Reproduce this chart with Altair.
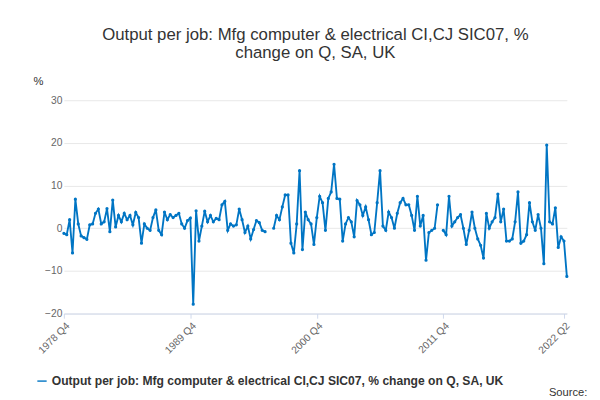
import altair as alt
import pandas as pd

vals = [
 -1.2,-1.5,2.0,-5.8,6.8, 1.0,-1.8,-2.2,-2.6,0.8, 1.0,3.5,4.5,1.0,1.5, 4.6,-0.8,6.6,0.3,3.0,
 1.5,3.5,2.0,3.0,0.8, 3.7,2.5,-3.5,1.0,0.0, -0.5,2.5,4.3,-0.5,-1.5, 3.8,2.0,3.2,2.5,3.0,
 3.5,1.0,0.0,1.8,2.4, -17.8,
 4.1,-3.0,0.5,4.0,1.5, 3.0,1.5,2.3,2.0,5.5, 6.3,-0.5,1.0,0.5,0.8, 4.5,2.0,-1.0,0.5,-2.5,
 -0.3,1.8,1.3,-0.5,-0.8, None,None,0.0,3.0,2.0, 5.0,7.8,7.8,-3.5,-5.8, 1.0,13.5,-5.0,3.8,2.0,
 1.0,-3.8,2.5,7.5,
 6.0,-0.5,7.0,8.5,15.0, 7.0,6.8,-3.0,1.0,2.5, 1.5,-2.0,6.5,5.5,3.0, 5.0,2.0,-1.5,-1.0,6.0,
 13.5,0.5,-0.5,3.8,2.5, 0.0,3.5,6.0,7.0,5.5, 5.5,3.0,-0.5,7.5,0.5, 3.0,-7.5,-1.0,-0.5,0.0,
 5.5,None,-0.5,-1.5,
 7.5,0.5,1.5,2.5,3.2, 0.0,-3.8,-0.5,3.8,0.0, -2.5,-4.0,-7.0,3.5,0.0, 1.5,2.5,8.0,1.5,4.5,
 -3.0,-3.0,-2.5,1.5,8.5, -3.5,-3.0,-1.5,6.0,1.5, -0.5,3.2,0.0,-8.3,19.5, 1.5,1.0,4.8,-4.5,-2.0,
 -3.0,-11.3]

quarters = []
y, q = 1978, 4
for _ in vals:
    quarters.append(f"{y} Q{q}")
    q += 1
    if q > 4:
        q = 1; y += 1

tick_labels = ["1978 Q4", "1989 Q4", "2000 Q4", "2011 Q4", "2022 Q2"]
series = "Output per job: Mfg computer & electrical CI,CJ SIC07, % change on Q, SA, UK"
df = pd.DataFrame({"quarter": quarters, "value": vals, "series": series})
F = "Liberation Sans"

line = alt.Chart(df).mark_line(
    color="#0075c4", strokeWidth=2,
    point=alt.OverlayMarkDef(color="#0075c4", size=12, filled=True)
).encode(
    x=alt.X("quarter:O", sort=None, title=None,
            scale=alt.Scale(type="point", padding=0),
            axis=alt.Axis(values=tick_labels, labelAngle=-45, grid=False,
                          labelColor="#666", labelFontSize=11, domainColor="#ccd6eb",
                          tickColor="#ccd6eb", labelFont=F)),
    y=alt.Y("value:Q", title="%", scale=alt.Scale(domain=[-20, 30]),
            axis=alt.Axis(values=[-20, -10, 0, 10, 20, 30], domain=False, ticks=False,
                          gridColor="#e6e6e6", labelColor="#666", labelFontSize=11,
                          titleAngle=0, titleAlign="left", titleBaseline="bottom",
                          titleX=-33, titleY=-14, titleFontWeight="normal",
                          titleColor="#333", titleFontSize=12, labelFont=F)),
    color=alt.Color("series:N", scale=alt.Scale(range=["#0075c4"]),
                    legend=alt.Legend(orient="none", legendX=-30, legendY=295,
                                      title=None, labelFontSize=13,
                                      labelFontWeight="bold", labelColor="#333",
                                      labelLimit=600, symbolType="stroke",
                                      labelFont=F))
)

source = alt.Chart(pd.DataFrame({"t": ["Source:"]})).mark_text(
    align="right", baseline="middle", fontSize=12, color="#333", font=F
).encode(text="t:N", x=alt.value(562), y=alt.value(314))

chart = alt.layer(line, source).properties(
    width=540, height=229, padding={"left": 27, "top": 5, "right": 5, "bottom": 5},
    title=alt.TitleParams(["Output per job: Mfg computer & electrical CI,CJ SIC07, %",
                           "change on Q, SA, UK"], fontSize=18, fontWeight="normal",
                          color="#333", font=F, anchor="middle", offset=14)
).configure_view(stroke=None)

chart.save("out.html", embed_options={"renderer": "svg", "actions": False})
